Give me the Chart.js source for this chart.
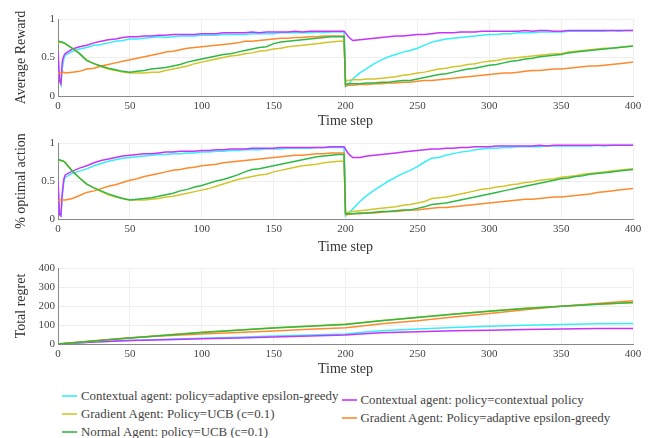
<!DOCTYPE html>
<html>
<head>
<meta charset="utf-8">
<script src="https://cdn.jsdelivr.net/npm/chart.js@4.4.1/dist/chart.umd.min.js"></script>
<style>
  body { margin: 0; background: #fff; width: 655px; height: 438px; overflow: hidden; position: relative; font-family: 'Liberation Serif', serif; }
  .box { position: absolute; left: 0; width: 655px; }
  #legend { position: absolute; left: 62px; top: 387px; display: flex; font-size: 12.9px; color: #444; }
  .col { display: flex; flex-direction: column; }
  .col + .col { margin-top: 4px; margin-left: 3px; }
  .item { display: flex; align-items: center; height: 18px; white-space: nowrap; }
  .sw { width: 15px; height: 2px; margin-right: 4px; opacity: 0.8; }
</style>
</head>
<body>
<div class="box" style="top:0;height:130px"><canvas id="c1" width="655" height="130"></canvas></div>
<div class="box" style="top:130px;height:126px"><canvas id="c2" width="655" height="126"></canvas></div>
<div class="box" style="top:256px;height:122px"><canvas id="c3" width="655" height="122"></canvas></div>
<div id="legend"></div>
<script>
// time steps sampled for the first two panels
const steps = [0, 1, 2, 3, 4, 5,
  10, 15, 20, 25, 30, 35, 40, 45, 50, 55, 60, 65, 70, 75, 80, 85, 90, 95, 100,
  105, 110, 115, 120, 125, 130, 135, 140, 145, 150, 155, 160, 165, 170, 175, 180, 185, 190, 195,
  199, 200, 202,
  205, 210, 215, 220, 225, 230, 235, 240, 245, 250, 255, 260, 265, 270, 275, 280, 285, 290, 295, 300,
  305, 310, 315, 320, 325, 330, 335, 340, 345, 350, 355, 360, 365, 370, 375, 380, 385, 390, 395, 400];

const labels = [
  "Contextual agent: policy=adaptive epsilon-greedy",
  "Contextual agent: policy=contextual policy",
  "Gradient Agent: Policy=UCB (c=0.1)",
  "Gradient Agent: Policy=adaptive epsilon-greedy",
  "Normal Agent: policy=UCB (c=0.1)"
];
const colors = ["#35eefc", "#c633fb", "#d2c52c", "#fe8a2c", "#2fb845"];

// average reward
const cyanR = [0.55, 0.22, 0.15, 0.36, 0.48, 0.53,
  0.58, 0.61, 0.63, 0.66, 0.67, 0.69, 0.71, 0.72, 0.74, 0.74, 0.75, 0.76, 0.77, 0.76, 0.77, 0.78, 0.78, 0.78, 0.79,
  0.79, 0.79, 0.80, 0.80, 0.80, 0.80, 0.81, 0.81, 0.81, 0.81, 0.82, 0.82, 0.82, 0.82, 0.82, 0.83, 0.82, 0.83, 0.83,
  0.83, 0.12, 0.15,
  0.22, 0.30, 0.36, 0.42, 0.47, 0.51, 0.54, 0.57, 0.59, 0.62, 0.66, 0.70, 0.72, 0.74, 0.75, 0.76, 0.77, 0.78, 0.79, 0.80,
  0.80, 0.81, 0.81, 0.82, 0.82, 0.82, 0.83, 0.83, 0.83, 0.83, 0.84, 0.84, 0.84, 0.84, 0.84, 0.84, 0.85, 0.84, 0.85, 0.85];
const magentaR = [0.58, 0.20, 0.16, 0.45, 0.52, 0.55,
  0.61, 0.64, 0.66, 0.69, 0.71, 0.73, 0.74, 0.76, 0.77, 0.77, 0.78, 0.78, 0.79, 0.79, 0.80, 0.80, 0.80, 0.80, 0.81,
  0.81, 0.81, 0.82, 0.82, 0.82, 0.82, 0.83, 0.82, 0.83, 0.83, 0.83, 0.83, 0.84, 0.83, 0.84, 0.84, 0.84, 0.84, 0.84,
  0.84, 0.82, 0.77,
  0.72, 0.73, 0.74, 0.75, 0.76, 0.77, 0.78, 0.78, 0.79, 0.80, 0.80, 0.81, 0.82, 0.82, 0.82, 0.83, 0.83, 0.83, 0.84, 0.84,
  0.84, 0.84, 0.84, 0.84, 0.85, 0.84, 0.85, 0.85, 0.84, 0.84, 0.85, 0.85, 0.85, 0.85, 0.85, 0.85, 0.85, 0.85, 0.85, 0.85];
const yellowR = [0.68, 0.70, 0.70, 0.69, 0.69, 0.68,
  0.62, 0.55, 0.47, 0.42, 0.38, 0.35, 0.33, 0.31, 0.30, 0.30, 0.30, 0.31, 0.31, 0.33, 0.35, 0.37, 0.39, 0.42, 0.44,
  0.46, 0.48, 0.50, 0.52, 0.53, 0.55, 0.56, 0.58, 0.59, 0.61, 0.62, 0.64, 0.65, 0.66, 0.67, 0.68, 0.69, 0.70, 0.71,
  0.71, 0.20, 0.20,
  0.21, 0.21, 0.22, 0.22, 0.23, 0.24, 0.25, 0.27, 0.28, 0.30, 0.31, 0.33, 0.35, 0.36, 0.38, 0.39, 0.41, 0.42, 0.44, 0.45,
  0.46, 0.48, 0.49, 0.50, 0.51, 0.52, 0.53, 0.54, 0.55, 0.55, 0.57, 0.58, 0.59, 0.60, 0.61, 0.62, 0.62, 0.63, 0.64, 0.65];
const orangeR = [0.29, 0.30, 0.30, 0.30, 0.31, 0.30,
  0.31, 0.32, 0.35, 0.36, 0.39, 0.41, 0.43, 0.45, 0.47, 0.49, 0.51, 0.53, 0.55, 0.57, 0.58, 0.60, 0.62, 0.63, 0.64,
  0.65, 0.66, 0.67, 0.68, 0.69, 0.71, 0.71, 0.72, 0.73, 0.74, 0.75, 0.75, 0.76, 0.76, 0.77, 0.77, 0.78, 0.78, 0.78,
  0.78, 0.13, 0.14,
  0.14, 0.15, 0.15, 0.16, 0.16, 0.17, 0.17, 0.18, 0.18, 0.19, 0.20, 0.20, 0.21, 0.22, 0.23, 0.24, 0.25, 0.26, 0.27, 0.28,
  0.29, 0.30, 0.30, 0.31, 0.32, 0.33, 0.33, 0.34, 0.35, 0.35, 0.36, 0.37, 0.38, 0.39, 0.39, 0.40, 0.41, 0.42, 0.43, 0.44];
const greenR = [0.70, 0.71, 0.70, 0.70, 0.69, 0.68,
  0.62, 0.55, 0.46, 0.42, 0.39, 0.36, 0.34, 0.32, 0.31, 0.32, 0.33, 0.35, 0.36, 0.37, 0.39, 0.41, 0.44, 0.46, 0.48,
  0.50, 0.52, 0.54, 0.55, 0.57, 0.59, 0.61, 0.63, 0.64, 0.68, 0.70, 0.71, 0.72, 0.73, 0.74, 0.75, 0.76, 0.77, 0.77,
  0.77, 0.15, 0.16,
  0.16, 0.16, 0.17, 0.17, 0.18, 0.18, 0.19, 0.20, 0.20, 0.22, 0.24, 0.26, 0.28, 0.29, 0.31, 0.33, 0.35, 0.36, 0.38, 0.40,
  0.41, 0.43, 0.45, 0.46, 0.48, 0.49, 0.51, 0.52, 0.53, 0.54, 0.56, 0.57, 0.58, 0.59, 0.60, 0.61, 0.62, 0.63, 0.64, 0.65];

// % optimal action
const cyanO = [0.50, 0.08, 0.05, 0.30, 0.48, 0.55,
  0.60, 0.63, 0.66, 0.70, 0.73, 0.76, 0.78, 0.80, 0.81, 0.82, 0.83, 0.84, 0.85, 0.85, 0.86, 0.86, 0.87, 0.87, 0.88,
  0.88, 0.89, 0.89, 0.90, 0.90, 0.91, 0.91, 0.91, 0.92, 0.92, 0.92, 0.93, 0.93, 0.93, 0.93, 0.94, 0.94, 0.94, 0.94,
  0.94, 0.04, 0.08,
  0.13, 0.23, 0.31, 0.38, 0.44, 0.50, 0.55, 0.60, 0.64, 0.69, 0.75, 0.80, 0.81, 0.84, 0.86, 0.88, 0.89, 0.91, 0.92, 0.93,
  0.93, 0.94, 0.94, 0.95, 0.95, 0.95, 0.95, 0.96, 0.96, 0.96, 0.96, 0.96, 0.96, 0.96, 0.97, 0.96, 0.97, 0.97, 0.97, 0.97];
const magentaO = [0.50, 0.06, 0.04, 0.35, 0.52, 0.58,
  0.63, 0.67, 0.70, 0.74, 0.77, 0.79, 0.81, 0.83, 0.84, 0.85, 0.86, 0.86, 0.87, 0.88, 0.88, 0.89, 0.89, 0.89, 0.90,
  0.90, 0.91, 0.91, 0.92, 0.92, 0.92, 0.93, 0.93, 0.93, 0.93, 0.94, 0.94, 0.94, 0.94, 0.94, 0.94, 0.94, 0.95, 0.95,
  0.95, 0.92, 0.86,
  0.81, 0.81, 0.83, 0.84, 0.85, 0.86, 0.87, 0.88, 0.89, 0.90, 0.91, 0.92, 0.92, 0.93, 0.93, 0.94, 0.94, 0.95, 0.95, 0.95,
  0.96, 0.96, 0.96, 0.96, 0.96, 0.96, 0.97, 0.96, 0.97, 0.97, 0.97, 0.97, 0.97, 0.97, 0.97, 0.97, 0.97, 0.97, 0.97, 0.97];
const yellowO = [0.76, 0.77, 0.77, 0.76, 0.76, 0.75,
  0.63, 0.54, 0.46, 0.41, 0.36, 0.32, 0.29, 0.27, 0.25, 0.25, 0.25, 0.26, 0.27, 0.29, 0.30, 0.32, 0.34, 0.36, 0.38,
  0.40, 0.43, 0.46, 0.49, 0.52, 0.54, 0.56, 0.58, 0.59, 0.62, 0.64, 0.66, 0.68, 0.70, 0.71, 0.72, 0.74, 0.75, 0.76,
  0.76, 0.08, 0.09,
  0.10, 0.11, 0.12, 0.13, 0.14, 0.15, 0.16, 0.18, 0.19, 0.21, 0.23, 0.27, 0.28, 0.29, 0.31, 0.33, 0.35, 0.37, 0.39, 0.40,
  0.42, 0.43, 0.45, 0.46, 0.48, 0.49, 0.51, 0.52, 0.53, 0.55, 0.56, 0.57, 0.59, 0.60, 0.61, 0.62, 0.63, 0.64, 0.65, 0.66];
const orangeO = [0.24, 0.25, 0.25, 0.25, 0.25, 0.25,
  0.27, 0.31, 0.35, 0.37, 0.40, 0.43, 0.45, 0.48, 0.51, 0.53, 0.56, 0.58, 0.60, 0.62, 0.64, 0.65, 0.67, 0.68, 0.70,
  0.71, 0.72, 0.74, 0.75, 0.76, 0.77, 0.78, 0.79, 0.80, 0.81, 0.82, 0.83, 0.84, 0.84, 0.85, 0.86, 0.86, 0.87, 0.87,
  0.87, 0.06, 0.06,
  0.07, 0.07, 0.08, 0.08, 0.09, 0.10, 0.10, 0.11, 0.12, 0.12, 0.13, 0.14, 0.15, 0.15, 0.16, 0.17, 0.18, 0.19, 0.20, 0.21,
  0.22, 0.23, 0.24, 0.25, 0.26, 0.26, 0.27, 0.28, 0.29, 0.29, 0.30, 0.31, 0.32, 0.33, 0.35, 0.36, 0.37, 0.38, 0.39, 0.40];
const greenO = [0.77, 0.78, 0.77, 0.77, 0.76, 0.74,
  0.63, 0.54, 0.46, 0.41, 0.37, 0.33, 0.30, 0.27, 0.25, 0.26, 0.27, 0.28, 0.30, 0.32, 0.34, 0.37, 0.39, 0.42, 0.44,
  0.47, 0.50, 0.52, 0.55, 0.58, 0.62, 0.65, 0.66, 0.68, 0.70, 0.72, 0.74, 0.76, 0.78, 0.80, 0.82, 0.83, 0.84, 0.85,
  0.85, 0.07, 0.07,
  0.07, 0.08, 0.08, 0.09, 0.10, 0.10, 0.11, 0.12, 0.12, 0.14, 0.16, 0.19, 0.20, 0.21, 0.23, 0.25, 0.27, 0.29, 0.31, 0.33,
  0.35, 0.37, 0.39, 0.41, 0.43, 0.45, 0.47, 0.49, 0.51, 0.53, 0.54, 0.56, 0.57, 0.59, 0.60, 0.61, 0.62, 0.63, 0.64, 0.65];

// total regret
const regretSteps = [0, 25, 50, 75, 100, 125, 150, 175, 200, 210, 225, 250, 275, 300, 325, 350, 375, 400];
const cyanT    = [0, 10, 19, 25, 30, 36, 42, 47, 52, 60, 70, 79, 87, 94, 99, 103, 106, 108];
const magentaT = [0, 10, 18, 23, 27, 32, 37, 42, 47, 53, 59, 65, 70, 73, 76, 79, 81, 82];
const yellowT  = [0, 16, 32, 47, 62, 74, 86, 95, 105, 112, 124, 141, 158, 174, 188, 199, 209, 217];
const orangeT  = [0, 17, 33, 44, 52, 60, 68, 77, 86, 94, 107, 122, 142, 161, 180, 199, 213, 227];
const greenT   = [0, 16, 31, 46, 61, 72, 84, 93, 103, 110, 122, 140, 157, 173, 187, 199, 209, 218];

Chart.defaults.font.family = "'Liberation Serif', serif";
Chart.defaults.color = "#444";

function pts(xs, ys) {
  return xs.map((x, i) => ({ x: x, y: ys[i] }));
}

function makeChart(id, xs, series, yMax, yStep, yTitle, padTop, xHeight) {
  const datasets = series.map((s, i) => ({
    label: labels[i],
    data: pts(xs, s),
    borderColor: colors[i],
    borderWidth: 1.5,
    pointRadius: 0,
    fill: false,
    order: series.length - i
  }));
  return new Chart(document.getElementById(id), {
    type: "line",
    data: { datasets: datasets },
    options: {
      responsive: false,
      animation: false,
      layout: { padding: { top: padTop, right: 22, left: 0, bottom: 0 } },
      plugins: { legend: { display: false }, tooltip: { enabled: false } },
      scales: {
        x: {
          type: "linear", min: 0, max: 400,
          ticks: { stepSize: 50, font: { size: 11 }, color: "#444", padding: 4 },
          grid: { color: "#eeeeee", drawTicks: false },
          border: { color: "#888" },
          title: { display: true, text: "Time step", font: { size: 14 }, color: "#333", padding: 0 },
          afterFit: (s) => { s.height = xHeight; }
        },
        y: {
          min: 0, max: yMax,
          ticks: {
            stepSize: yStep, font: { size: 11 }, color: "#444", padding: 3,
            callback: (v) => String(Math.round(v * 10) / 10)
          },
          grid: { color: "#eeeeee", drawTicks: false },
          border: { color: "#888" },
          title: { display: true, text: yTitle, font: { size: 14 }, color: "#333", padding: { top: 12.6, bottom: 0 } },
          afterFit: (s) => { s.width = 58; }
        }
      }
    }
  });
}

makeChart("c1", steps, [cyanR, magentaR, yellowR, orangeR, greenR], 1, 0.5, "Average Reward", 19, 34);
makeChart("c2", steps, [cyanO, magentaO, yellowO, orangeO, greenO], 1, 0.5, "% optimal action", 13, 37);
makeChart("c3", regretSteps, [cyanT, magentaT, yellowT, orangeT, greenT], 400, 100, "Total regret", 12, 34);

// legend in two columns, like the reference
const legend = document.getElementById("legend");
const cols = [[0, 2, 4], [1, 3]];
cols.forEach((idx) => {
  const col = document.createElement("div");
  col.className = "col";
  idx.forEach((i) => {
    const item = document.createElement("div");
    item.className = "item";
    const sw = document.createElement("span");
    sw.className = "sw";
    sw.style.background = colors[i];
    const tx = document.createElement("span");
    tx.textContent = labels[i];
    item.appendChild(sw);
    item.appendChild(tx);
    col.appendChild(item);
  });
  legend.appendChild(col);
});
</script>
</body>
</html>
